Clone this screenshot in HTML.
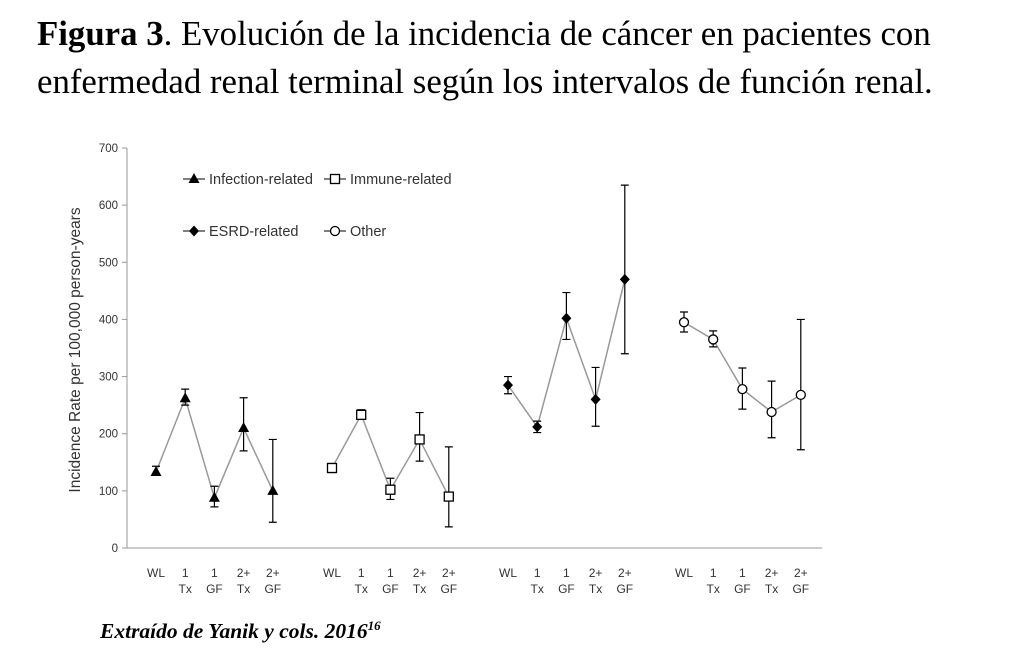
<!DOCTYPE html>
<html><head><meta charset="utf-8"><style>
body{margin:0;background:#fff;width:1021px;height:648px;overflow:hidden;position:relative}
.t{position:absolute;left:37px;font-family:"Liberation Serif",serif;font-size:34.8px;color:#000;white-space:nowrap}
.f{position:absolute;left:100px;top:618px;font-family:"Liberation Serif",serif;font-size:21.5px;font-weight:bold;font-style:italic}
svg{position:absolute;left:0;top:0}
svg text{font-family:"Liberation Sans",sans-serif;fill:#333}
</style></head><body>
<div class="t" style="top:14px"><b>Figura 3</b>. Evolución de la incidencia de cáncer en pacientes con</div>
<div class="t" style="top:62px">enfermedad renal terminal según los intervalos de función renal.</div>
<div class="f">Extraído de Yanik y cols. 2016<sup style="font-size:13px">16</sup></div>
<svg id="c" width="1021" height="648"></svg>
<script>
const categories=["WL","1 Tx","1 GF","2+ Tx","2+ GF"];
const seriesNames=["Infection-related","Immune-related","ESRD-related","Other"];
const values=[[133,262,88,210,100],[140,233,102,190,90],[285,212,402,260,470],[395,365,278,238,268]];
const lows=[[128,250,72,170,45],[132,225,85,152,37],[270,202,365,213,340],[378,352,243,193,172]];
const highs=[[143,278,108,263,190],[148,242,122,237,177],[300,222,447,316,635],[413,380,315,292,400]];
const yTicks=[0,100,200,300,400,500,600,700];
const NS="http://www.w3.org/2000/svg",svg=document.getElementById('c');
function y(v){return 548-v*400/700;}
function x(g,i){return 156+g*176+i*29.2;}
function mk(t,a,p){const e=document.createElementNS(NS,t);for(const k in a)e.setAttribute(k,a[k]);(p||svg).appendChild(e);return e;}
let e=mk('line',{x1:127,y1:148,x2:127,y2:548,stroke:'#999'});

e=mk('line',{x1:127,y1:548,x2:822,y2:548,stroke:'#999'});

yTicks.forEach(v=>{mk('line',{x1:122,y1:y(v),x2:127,y2:y(v),stroke:'#999'});
 const t=mk('text',{x:118,y:y(v)+4,'text-anchor':'end','font-size':11.5});t.textContent=v;
 });
e=mk('text',{transform:'translate(80,350) rotate(-90)','text-anchor':'middle','font-size':15.5});
e.textContent='Incidence Rate per 100,000 person-years';

function marker(s,cx,cy,p){
 if(s==0)return mk('polygon',{points:`${cx},${cy-6} ${cx+5.5},${cy+4} ${cx-5.5},${cy+4}`,fill:'#000'},p);
 if(s==1)return mk('rect',{x:cx-4.5,y:cy-4.5,width:9,height:9,fill:'#fff',stroke:'#000','stroke-width':1.3},p);
 if(s==2)return mk('polygon',{points:`${cx},${cy-5.5} ${cx+5},${cy} ${cx},${cy+5.5} ${cx-5},${cy}`,fill:'#000'},p);
 return mk('circle',{cx:cx,cy:cy,r:4.5,fill:'#fff',stroke:'#000','stroke-width':1.3},p);}
values.forEach((vals,g)=>{
 const grp=mk('g',{});
 mk('polyline',{points:vals.map((v,i)=>x(g,i)+','+y(v)).join(' '),fill:'none',stroke:'#999','stroke-width':1.5},grp);
 vals.forEach((v,i)=>{const X=x(g,i);
  const eb=mk('path',{d:`M${X},${y(lows[g][i])}V${y(highs[g][i])}M${X-4},${y(lows[g][i])}H${X+4}M${X-4},${y(highs[g][i])}H${X+4}`,stroke:'#000','stroke-width':1.2,fill:'none'},grp);
  
  const m=marker(g,X,y(v),grp);});
 categories.forEach((c,i)=>{const X=x(g,i);const parts=c.split(' ');
  let t=mk('text',{x:X,y:577,'text-anchor':'middle','font-size':12});t.textContent=parts[0];
  
  if(parts[1]){t=mk('text',{x:X,y:593,'text-anchor':'middle','font-size':12});t.textContent=parts[1];
  }});
});
const leg=[[183,179],[324,179],[183,231],[324,231]];
seriesNames.forEach((n,s)=>{const [lx,ly]=leg[s];
 const grp=mk('g',{});
 mk('line',{x1:lx,y1:ly,x2:lx+22,y2:ly,stroke:'#000'},grp);marker(s,lx+11,ly,grp);
 const t=mk('text',{x:lx+26,y:ly+5,'font-size':14.5},grp);t.textContent=n;});
</script>
</body></html>
